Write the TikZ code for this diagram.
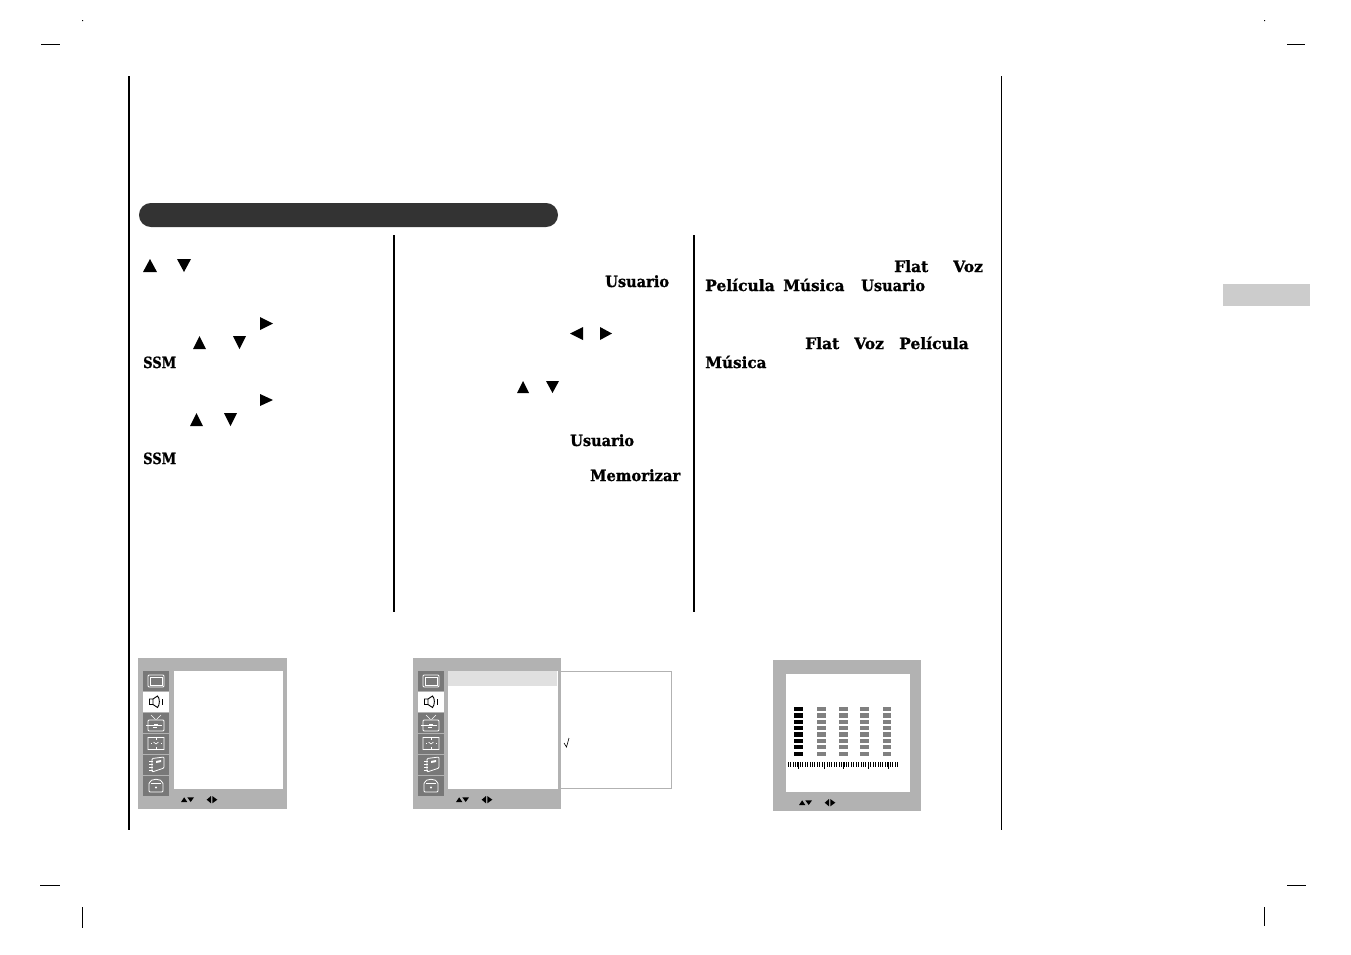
\documentclass[tikz,border=0pt]{standalone}
\usepackage{fontspec}
\setmainfont[BoldFeatures={FakeBold=1.1}]{DejaVu Serif}
\tikzset{
  bt/.style={font=\fontsize{15.5}{16}\selectfont\bfseries,anchor=base west,inner sep=0pt,text=black},
  cropline/.style={line width=.9pt,black},
  rulethick/.style={line width=2pt,black},
  osdgrey/.style={fill=black!30},
  tile/.style={fill=black!53},
  ico/.style={draw=white,line width=.8pt,fill=none,rounded corners=1pt}
}
\newcommand{\narrow}[2]{\scalebox{#1}[1]{#2}}
\newcommand{\panelbg}[3]{%
  \fill[osdgrey] (#1,#2) rectangle ++(#3,151);
}
\newcommand{\icons}[2]{%
  \begin{scope}[shift={(#1,#2)}]
    \fill[tile] (0,0) rectangle (26,20);
    \draw[ico] (5,4) rectangle (21,16);
    \draw[white,line width=.5pt] (7,6) rectangle (19,14);
    \fill[white] (0,21) rectangle (26,41);
    \draw[black,line width=.9pt] (6.5,28) rectangle (10,33.5) (10,28) -- (14.5,25) .. controls (17,27) and (17,34) .. (14.5,36.5) -- (10,33.5);
    \draw[black,line width=1pt] (19,28) -- (19,34);
    \fill[tile] (0,42) rectangle (26,62);
    \draw[ico] (5,49) rectangle (21,60);
    \draw[white,line width=.6pt] (8,44) -- (12.5,48.5) (18,44) -- (13.5,48.5);
    \draw[white,line width=.8pt] (3,54.5) -- (19,54.5) (11,53) -- (15,53) (10,56) -- (14,56);
    \fill[tile] (0,63) rectangle (26,83);
    \draw[white,line width=.6pt] (5,66.5) rectangle (21,78.5) (10.5,71) -- (13,73) -- (15.5,71);
    \draw[white,line width=.8pt] (8,72.5) -- (9,72.5) (18,72.5) -- (19,72.5) (13,66.5) -- (13,69) (13,76) -- (13,78.5);
    \fill[tile] (0,84) rectangle (26,104);
    \draw[ico] (9,87.5) -- (21,86) -- (21,97) -- (9,101) -- cycle;
    \draw[white,line width=.7pt] (6,90) -- (10,90) (6,93) -- (10,93) (6,96) -- (10,96) (6,99) -- (10,99);
    \fill[white] (13,90) -- (18,89) -- (18,91) -- (13,92) -- cycle;
    \fill[tile] (0,105) rectangle (26,125);
    \draw[ico] (6,113) .. controls (7,107) and (19,107) .. (20,113) -- (20,121) -- (6,121) -- cycle;
    \draw[white,line width=.6pt] (8,112) -- (18,112);
    \fill[white] (13,116.5) circle (1.2);
  \end{scope}
}
\newcommand{\arrowkeys}[2]{%
  \begin{scope}[shift={(#1,#2)}]
    \fill (0,4) -- (6.3,4) -- (3.2,-.7) -- cycle;
    \fill (6.3,-.7) -- (13,-.7) -- (9.7,4) -- cycle;
    \fill (25.7,1.7) -- (30,-2) -- (30,5.3) -- cycle;
    \fill (31.3,-2) -- (36.3,1.7) -- (31.3,5.3) -- cycle;
  \end{scope}
}
\begin{document}
\begin{tikzpicture}[x=1pt,y=-1pt]
\useasboundingbox (0,0) rectangle (1351,954);
\fill[white] (0,0) rectangle (1351,954);
% crop marks
\draw[cropline] (41,44.5) -- (60,44.5) (1287,44.5) -- (1305,44.5) (40,885) -- (60,885) (1287,885) -- (1306,885);
\draw[cropline] (82.5,907) -- (82.5,928) (1264.5,907) -- (1264.5,926);
\fill (82,20) rectangle (83,21) (1264,20) rectangle (1265,21);
% frame rules
\draw[rulethick] (129,76) -- (129,830);
\draw[line width=1.3pt] (1001.5,76) -- (1001.5,830);
\draw[rulethick] (394,235) -- (394,612);
\draw[rulethick] (694,235) -- (694,612);
% header
\fill[black!80,rounded corners=11.9pt] (139,203) rectangle (558,227);
% side tab
\fill[black!20] (1223,284) rectangle (1310,306);
% column 1
\fill (143,272) -- (157,272) -- (150,259) -- cycle;
\fill (177,259) -- (191,259) -- (184,272) -- cycle;
\fill (260,317) -- (273,323.5) -- (260,330) -- cycle;
\fill (193,349) -- (206,349) -- (199.5,336) -- cycle;
\fill (233,336) -- (246,336) -- (239.5,349) -- cycle;
\fill (260,394) -- (273,400) -- (260,406) -- cycle;
\fill (190,426) -- (203,426) -- (196.5,413) -- cycle;
\fill (224,413) -- (237,413) -- (230.5,426) -- cycle;
\node[bt] (s1) at (143,368) {\narrow{.84}{SSM}};
\node[bt] (s2) at (143,464) {\narrow{.84}{SSM}};
% column 2
\node[bt] (u1) at (605,287) {\narrow{.94}{Usuario}};
\fill (583,327) -- (570,333.5) -- (583,340) -- cycle;
\fill (600,327) -- (612,333.5) -- (600,340) -- cycle;
\fill (517,393) -- (529,393) -- (523,381) -- cycle;
\fill (546,381) -- (559,381) -- (552.5,393) -- cycle;
\node[bt] (u2) at (570,446) {\narrow{.94}{Usuario}};
\node[bt] (m1) at (590,481) {\narrow{.95}{Memorizar}};
% column 3
\node[bt] (f1) at (894,272) {Flat};
\node[bt] (v1) at (953,272) {Voz};
\node[bt] (p1) at (705,291) {Película};
\node[bt] (mu1) at (783,291) {\narrow{.98}{Música}};
\node[bt] (u3) at (861,291) {\narrow{.94}{Usuario}};
\node[bt] (f2) at (805,349) {Flat};
\node[bt] (v2) at (854,349) {Voz};
\node[bt] (p2) at (899,349) {Película};
\node[bt] (mu2) at (705,368) {\narrow{.98}{Música}};
% panel 1
\panelbg{138}{658}{149}
\fill[white] (174,671) rectangle (283,789);
\icons{143}{671}
\arrowkeys{181}{798}
% panel 2
\draw[black!30,line width=.9pt,fill=white] (556,671.5) rectangle (671.5,788.5);
\panelbg{413}{658}{148}
\fill[white] (448,671) rectangle (558,789);
\fill[black!12] (448,671) rectangle (557,686);
\icons{418}{671}
\arrowkeys{456}{798}
\draw[black,line width=.6pt] (564,743) -- (566.5,747) -- (569,738);
% panel 3
\fill[osdgrey] (773,660) rectangle (921,811);
\fill[white] (786,674) rectangle (910,792);
\foreach \y in {707,713.3,719.6,726,732.4,738.8,745.2,751.6} {
  \fill[black] (794,\y) rectangle (803,\y+4.2);
  \foreach \x in {817,839,860} \fill[black!50] (\x,\y) rectangle (\x+9,\y+4.2);
  \fill[black!50] (883,\y) rectangle (891,\y+4.2);
}
\foreach \i in {0,...,45} \draw[black,line width=.6pt] (788+2.43*\i,762) -- (788+2.43*\i,767);
\foreach \x in {798,824,843,868,888} \draw[black,line width=.9pt] (\x,762) -- (\x,769);
\arrowkeys{799}{801}
\end{tikzpicture}
\end{document}
